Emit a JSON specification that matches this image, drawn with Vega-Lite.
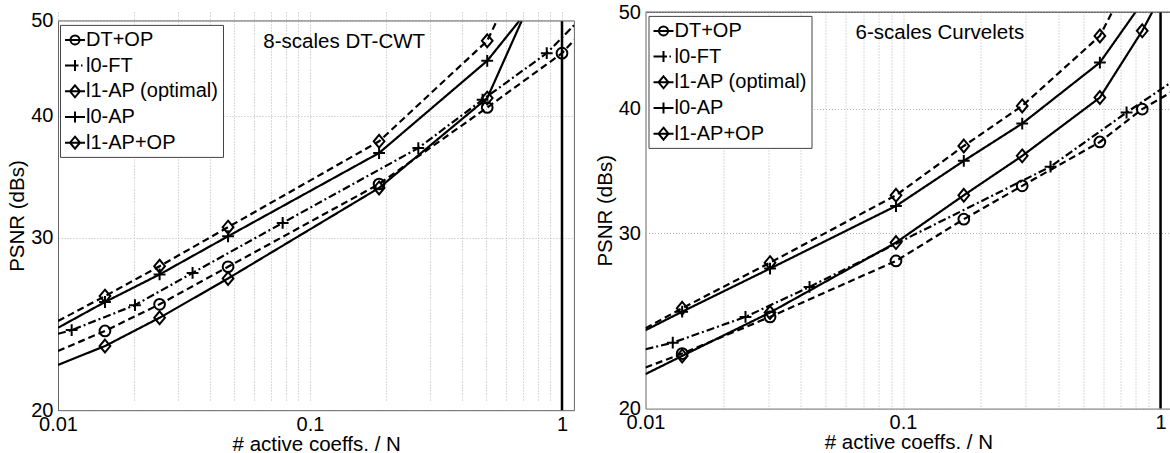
{
  "$schema": "https://vega.github.io/schema/vega-lite/v6.json",
  "background": "white",
  "padding": {"left": 7, "top": 1, "right": 0, "bottom": 0},
  "spacing": 19.5,
  "datasets": {
    "dtcwt": [
      {"series": "DT+OP", "x": 0.01, "y": 22.99, "edge": true},
      {"series": "DT+OP", "x": 0.01536, "y": 24.10, "edge": false},
      {"series": "DT+OP", "x": 0.0253, "y": 25.66, "edge": false},
      {"series": "DT+OP", "x": 0.0473, "y": 28.03, "edge": false},
      {"series": "DT+OP", "x": 0.188, "y": 34.06, "edge": false},
      {"series": "DT+OP", "x": 0.505, "y": 40.78, "edge": false},
      {"series": "DT+OP", "x": 1.0, "y": 46.34, "edge": false},
      {"series": "DT+OP", "x": 1.12, "y": 47.82, "edge": true},
      {"series": "l0-FT", "x": 0.01, "y": 23.94, "edge": true},
      {"series": "l0-FT", "x": 0.01133, "y": 24.15, "edge": false},
      {"series": "l0-FT", "x": 0.0202, "y": 25.61, "edge": false},
      {"series": "l0-FT", "x": 0.0342, "y": 27.63, "edge": false},
      {"series": "l0-FT", "x": 0.0779, "y": 31.08, "edge": false},
      {"series": "l0-FT", "x": 0.269, "y": 37.07, "edge": false},
      {"series": "l0-FT", "x": 0.484, "y": 41.53, "edge": false},
      {"series": "l0-FT", "x": 0.87, "y": 46.34, "edge": false},
      {"series": "l0-FT", "x": 1.12, "y": 49.53, "edge": true},
      {"series": "l1-AP (optimal)", "x": 0.01, "y": 22.25, "edge": true},
      {"series": "l1-AP (optimal)", "x": 0.01536, "y": 23.26, "edge": false},
      {"series": "l1-AP (optimal)", "x": 0.0253, "y": 24.86, "edge": false},
      {"series": "l1-AP (optimal)", "x": 0.0473, "y": 27.27, "edge": false},
      {"series": "l1-AP (optimal)", "x": 0.188, "y": 33.75, "edge": false},
      {"series": "l1-AP (optimal)", "x": 0.505, "y": 41.69, "edge": false},
      {"series": "l1-AP (optimal)", "x": 0.692, "y": 50, "edge": true},
      {"series": "l0-AP", "x": 0.01, "y": 24.28, "edge": true},
      {"series": "l0-AP", "x": 0.01536, "y": 25.80, "edge": false},
      {"series": "l0-AP", "x": 0.0253, "y": 27.53, "edge": false},
      {"series": "l0-AP", "x": 0.0473, "y": 30.12, "edge": false},
      {"series": "l0-AP", "x": 0.188, "y": 36.64, "edge": false},
      {"series": "l0-AP", "x": 0.505, "y": 45.52, "edge": false},
      {"series": "l0-AP", "x": 0.677, "y": 50, "edge": true},
      {"series": "l1-AP+OP", "x": 0.01, "y": 24.67, "edge": true},
      {"series": "l1-AP+OP", "x": 0.01536, "y": 26.16, "edge": false},
      {"series": "l1-AP+OP", "x": 0.0253, "y": 28.07, "edge": false},
      {"series": "l1-AP+OP", "x": 0.0473, "y": 30.77, "edge": false},
      {"series": "l1-AP+OP", "x": 0.188, "y": 37.66, "edge": false},
      {"series": "l1-AP+OP", "x": 0.505, "y": 47.71, "edge": false},
      {"series": "l1-AP+OP", "x": 0.551, "y": 50, "edge": true}
    ],
    "curvelets": [
      {"series": "DT+OP", "x": 0.01, "y": 21.99, "edge": true},
      {"series": "DT+OP", "x": 0.01388, "y": 22.71, "edge": false},
      {"series": "DT+OP", "x": 0.03045, "y": 24.72, "edge": false},
      {"series": "DT+OP", "x": 0.0939, "y": 28.13, "edge": false},
      {"series": "DT+OP", "x": 0.1722, "y": 30.98, "edge": false},
      {"series": "DT+OP", "x": 0.2903, "y": 33.46, "edge": false},
      {"series": "DT+OP", "x": 0.5813, "y": 37.03, "edge": false},
      {"series": "DT+OP", "x": 0.849, "y": 39.95, "edge": false},
      {"series": "DT+OP", "x": 1.1, "y": 41.55, "edge": true},
      {"series": "l0-FT", "x": 0.01, "y": 22.94, "edge": true},
      {"series": "l0-FT", "x": 0.01276, "y": 23.29, "edge": false},
      {"series": "l0-FT", "x": 0.02445, "y": 24.72, "edge": false},
      {"series": "l0-FT", "x": 0.04335, "y": 26.49, "edge": false},
      {"series": "l0-FT", "x": 0.374, "y": 34.98, "edge": false},
      {"series": "l0-FT", "x": 0.738, "y": 39.64, "edge": false},
      {"series": "l0-FT", "x": 1.1, "y": 42.5, "edge": true},
      {"series": "l1-AP (optimal)", "x": 0.01, "y": 21.66, "edge": true},
      {"series": "l1-AP (optimal)", "x": 0.01388, "y": 22.59, "edge": false},
      {"series": "l1-AP (optimal)", "x": 0.03045, "y": 24.97, "edge": false},
      {"series": "l1-AP (optimal)", "x": 0.0939, "y": 29.35, "edge": false},
      {"series": "l1-AP (optimal)", "x": 0.1722, "y": 32.74, "edge": false},
      {"series": "l1-AP (optimal)", "x": 0.2903, "y": 35.86, "edge": false},
      {"series": "l1-AP (optimal)", "x": 0.5813, "y": 41.03, "edge": false},
      {"series": "l1-AP (optimal)", "x": 0.849, "y": 47.87, "edge": false},
      {"series": "l1-AP (optimal)", "x": 0.929, "y": 50, "edge": true},
      {"series": "l0-AP", "x": 0.01, "y": 23.97, "edge": true},
      {"series": "l0-AP", "x": 0.01388, "y": 25.02, "edge": false},
      {"series": "l0-AP", "x": 0.03045, "y": 27.64, "edge": false},
      {"series": "l0-AP", "x": 0.0939, "y": 31.94, "edge": false},
      {"series": "l0-AP", "x": 0.1722, "y": 35.45, "edge": false},
      {"series": "l0-AP", "x": 0.2903, "y": 38.64, "edge": false},
      {"series": "l0-AP", "x": 0.5813, "y": 44.49, "edge": false},
      {"series": "l0-AP", "x": 0.80, "y": 50, "edge": true},
      {"series": "l1-AP+OP", "x": 0.01, "y": 24.08, "edge": true},
      {"series": "l1-AP+OP", "x": 0.01388, "y": 25.22, "edge": false},
      {"series": "l1-AP+OP", "x": 0.03045, "y": 28.02, "edge": false},
      {"series": "l1-AP+OP", "x": 0.0939, "y": 32.74, "edge": false},
      {"series": "l1-AP+OP", "x": 0.1722, "y": 36.69, "edge": false},
      {"series": "l1-AP+OP", "x": 0.2903, "y": 40.25, "edge": false},
      {"series": "l1-AP+OP", "x": 0.5813, "y": 47.31, "edge": false},
      {"series": "l1-AP+OP", "x": 0.649, "y": 50, "edge": true}
    ]
  },
  "config": {
    "font": "Liberation Sans",
    "view": {"stroke": "#666666", "strokeWidth": 1},
    "axis": {
      "labelFont": "Liberation Sans", "labelFontSize": 20, "labelColor": "black",
      "titleFont": "Liberation Sans", "titleFontSize": 20.5, "titleFontWeight": "normal", "titleColor": "black",
      "grid": true, "gridColor": "#b4b4b4", "gridDash": [1, 2], "gridWidth": 1,
      "domain": false, "domainColor": "#666666", "ticks": false, "labelFlush": false, "labelOverlap": false
    },
    "legend": {
      "labelFont": "Liberation Sans", "labelFontSize": 20, "labelColor": "black", "labelLimit": 250,
      "symbolSize": 400, "rowPadding": 4.7, "padding": 4, "labelOffset": 0,
      "strokeColor": "#444444", "fillColor": "white", "symbolStrokeWidth": 2,
      "symbolStrokeColor": "black", "symbolFillColor": "transparent",
      "symbolType": {"expr": "datum.value === 'DT+OP' ? 'M-1,0H1M0.45,0A0.45,0.45,0,1,1,-0.45,0A0.45,0.45,0,1,1,0.45,0' : datum.value === 'l0-FT' ? 'M-1,0H0.35M0.6,0H0.75M0,-0.55V0.55' : datum.value === 'l0-AP' ? 'M-1,0H1M0,-0.55V0.55' : 'M-1,0H1M0,-0.6L0.5,0L0,0.6L-0.5,0Z'"}
    }
  },
  "resolve": {
    "scale": {"color": "independent", "shape": "independent", "strokeDash": "independent"},
    "legend": {"color": "independent", "shape": "independent", "strokeDash": "independent"}
  },
  "hconcat": [
    {
      "width": 516.4, "height": 398.2,
      "view": {"stroke": null},
      "data": {"name": "dtcwt"},
      "layer": [
        {
          "mark": {"type": "line", "strokeWidth": 2.2, "color": "black", "clip": true},
          "encoding": {
            "x": {"field": "x", "type": "quantitative", "scale": {"type": "log", "domain": [0.01, 1.12], "nice": false},
              "axis": {"values": [0.01,0.02,0.03,0.04,0.05,0.06,0.07,0.08,0.09,0.1,0.2,0.3,0.4,0.5,0.6,0.7,0.8,0.9,1],
                "labelExpr": "datum.value == 0.01 ? '0.01' : datum.value == 0.1 ? '0.1' : datum.value == 1 ? '1' : ''",
                "title": "# active coeffs. / N", "labelPadding": 4, "titlePadding": 0, "domain": true}},
            "y": {"field": "y", "type": "quantitative", "scale": {"type": "log", "domain": [20, 50], "range": [398.2, 8.9], "nice": false},
              "axis": {"values": [20, 30, 40, 50], "format": "d", "title": "PSNR (dBs)", "labelPadding": 5, "titlePadding": 3, "domain": true}},
            "strokeDash": {"field": "series", "type": "nominal",
              "scale": {"domain": ["l0-FT", "DT+OP", "l1-AP+OP", "l0-AP", "l1-AP (optimal)"], "range": [[8, 3, 2, 3], [7, 4], [7, 4], [1, 0], [1, 0]]},
              "legend": null}
          }
        },
        {
          "transform": [{"filter": "!datum.edge"}],
          "mark": {"type": "point", "filled": false, "strokeWidth": 2, "size": 115, "opacity": 1},
          "encoding": {
            "x": {"field": "x", "type": "quantitative"},
            "y": {"field": "y", "type": "quantitative"},
            "shape": {"field": "series", "type": "nominal",
              "scale": {"domain": ["l1-AP+OP", "l0-AP", "l1-AP (optimal)", "l0-FT", "DT+OP"],
                "range": ["M0,-1.2L1,0L0,1.2L-1,0Z", "M-1.1,0H1.1M0,-1.1V1.1", "M0,-1.2L1,0L0,1.2L-1,0Z", "M-1.1,0H1.1M0,-1.1V1.1", "M1,0A1,1,0,1,1,-1,0A1,1,0,1,1,1,0"]},
              "legend": null},
            "color": {"field": "series", "type": "nominal",
              "scale": {"domain": ["DT+OP", "l0-FT", "l1-AP (optimal)", "l0-AP", "l1-AP+OP"], "range": ["black", "black", "black", "black", "black"]},
              "legend": {"orient": "none", "legendX": 2, "legendY": 12.9, "title": null}}
          }
        },
        {
          "data": {"values": [{"x": 1}]},
          "mark": {"type": "rule", "color": "black", "strokeWidth": 2.5},
          "encoding": {"x": {"field": "x", "type": "quantitative"}, "y": {"datum": 20}, "y2": {"datum": 50}}
        },
        {
          "data": {"values": [{"frame": "top"}]},
          "mark": {"type": "rule", "color": "#666666", "strokeWidth": 1},
          "encoding": {"y": {"datum": 50}}
        },
        {
          "data": {"values": [{"frame": "right"}]},
          "mark": {"type": "rule", "color": "#666666", "strokeWidth": 1},
          "encoding": {"x": {"datum": 1.12}, "y": {"datum": 20}, "y2": {"datum": 50}}
        },
        {
          "data": {"values": [{"label": "8-scales DT-CWT"}]},
          "mark": {"type": "text", "align": "left", "baseline": "middle", "font": "Liberation Sans", "fontSize": 20.5, "color": "black"},
          "encoding": {"x": {"datum": 0.0653, "type": "quantitative"}, "y": {"datum": 47.62, "type": "quantitative"}, "text": {"field": "label"}}
        }
      ]
    },
    {
      "width": 525.7, "height": 396.6,
      "data": {"name": "curvelets"},
      "layer": [
        {
          "mark": {"type": "line", "strokeWidth": 2.2, "color": "black", "clip": true},
          "encoding": {
            "x": {"field": "x", "type": "quantitative", "scale": {"type": "log", "domain": [0.01, 1.1], "nice": false},
              "axis": {"values": [0.01,0.02,0.03,0.04,0.05,0.06,0.07,0.08,0.09,0.1,0.2,0.3,0.4,0.5,0.6,0.7,0.8,0.9,1],
                "labelExpr": "datum.value == 0.01 ? '0.01' : datum.value == 0.1 ? '0.1' : datum.value == 1 ? '1' : ''",
                "title": "# active coeffs. / N", "labelPadding": 4, "titlePadding": 0}},
            "y": {"field": "y", "type": "quantitative", "scale": {"type": "log", "domain": [20, 50], "nice": false},
              "axis": {"values": [20, 30, 40, 50], "format": "d", "title": "PSNR (dBs)", "labelPadding": 5, "titlePadding": 3}},
            "strokeDash": {"field": "series", "type": "nominal",
              "scale": {"domain": ["l0-FT", "DT+OP", "l1-AP+OP", "l0-AP", "l1-AP (optimal)"], "range": [[8, 3, 2, 3], [7, 4], [7, 4], [1, 0], [1, 0]]},
              "legend": null}
          }
        },
        {
          "transform": [{"filter": "!datum.edge"}],
          "mark": {"type": "point", "filled": false, "strokeWidth": 2, "size": 115, "opacity": 1},
          "encoding": {
            "x": {"field": "x", "type": "quantitative"},
            "y": {"field": "y", "type": "quantitative"},
            "shape": {"field": "series", "type": "nominal",
              "scale": {"domain": ["l1-AP+OP", "l0-AP", "l1-AP (optimal)", "l0-FT", "DT+OP"],
                "range": ["M0,-1.2L1,0L0,1.2L-1,0Z", "M-1.1,0H1.1M0,-1.1V1.1", "M0,-1.2L1,0L0,1.2L-1,0Z", "M-1.1,0H1.1M0,-1.1V1.1", "M1,0A1,1,0,1,1,-1,0A1,1,0,1,1,1,0"]},
              "legend": null},
            "color": {"field": "series", "type": "nominal",
              "scale": {"domain": ["DT+OP", "l0-FT", "l1-AP (optimal)", "l0-AP", "l1-AP+OP"], "range": ["black", "black", "black", "black", "black"]},
              "legend": {"orient": "none", "legendX": 3, "legendY": 3.9, "title": null}}
          }
        },
        {
          "data": {"values": [{"x": 1}]},
          "mark": {"type": "rule", "color": "black", "strokeWidth": 2.5},
          "encoding": {"x": {"field": "x", "type": "quantitative"}, "y": {"datum": 20}, "y2": {"datum": 50}}
        },
        {
          "data": {"values": [{"frame": "top"}]},
          "mark": {"type": "rule", "color": "#666666", "strokeWidth": 1},
          "encoding": {"y": {"datum": 50}}
        },
        {
          "data": {"values": [{"label": "6-scales Curvelets"}]},
          "mark": {"type": "text", "align": "left", "baseline": "middle", "font": "Liberation Sans", "fontSize": 20.5, "color": "black"},
          "encoding": {"x": {"datum": 0.0654, "type": "quantitative"}, "y": {"datum": 47.68, "type": "quantitative"}, "text": {"field": "label"}}
        }
      ]
    }
  ]
}
